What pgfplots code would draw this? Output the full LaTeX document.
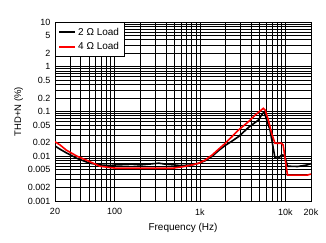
\documentclass[border=0pt]{standalone}
\usepackage{fontspec}
\setmainfont{Liberation Sans}
\usepackage{pgfplots}
\pgfplotsset{compat=1.18}
\begin{document}
\begin{tikzpicture}
\begin{axis}[
 scale only axis, width=256pt, height=179pt,
 xmode=log, ymode=log,
 xmin=20, xmax=20000, ymin=0.001, ymax=10,
 xtick={20,100,1000,10000,20000},
 xticklabels={20,100,1k,10k,20k},
 ytick={0.001,0.002,0.005,0.01,0.02,0.05,0.1,0.2,0.5,1,2,5,10},
 yticklabels={0.001,0.002,0.005,0.01,0.02,0.05,0.1,0.2,0.5,1,2,5,10},
 minor xtick={30,40,50,60,70,80,90,200,300,400,500,600,700,800,900,2000,3000,4000,5000,6000,7000,8000,9000},
 minor ytick={0.003,0.004,0.006,0.007,0.008,0.009,0.03,0.04,0.06,0.07,0.08,0.09,0.3,0.4,0.6,0.7,0.8,0.9,3,4,6,7,8,9},
 grid=both,
 major grid style={black, line width=0.75pt},
 minor grid style={black, line width=0.75pt},
 major tick length=0pt, minor tick length=0pt,
 axis line style={black, line width=1pt},
 tick label style={font=\fontsize{9}{10}\selectfont},
 xticklabel style={yshift=-4pt},
 yticklabel style={xshift=-1pt},
 xlabel={Frequency (Hz)},
 ylabel={THD+N (\%)},
 xlabel style={font=\fontsize{10}{12}\selectfont, yshift=-1pt},
 ylabel style={font=\fontsize{9.5}{11}\selectfont, yshift=-2pt},
 legend style={at={(0,1)}, anchor=north west, draw=black, line width=0.8pt, fill=white,
   font=\fontsize{10}{12}\selectfont, inner xsep=3pt, inner ysep=3.5pt, row sep=2pt, legend cell align=left},
 legend image code/.code={\draw[#1, line width=1.8pt] (0pt,0pt) -- (16pt,0pt);},
]
\coordinate (sw) at (rel axis cs:0,0);
\addplot[black, line width=1.6pt] coordinates {
(20,0.0170) (23,0.0143) (27,0.0120) (36,0.0090) (51,0.0070) (67,0.0064) (87,0.0062)
(104,0.0064) (160,0.0066) (200,0.0064) (330,0.0070) (400,0.0066) (500,0.0064) (600,0.0062)
(800,0.0064) (970,0.0070) (1160,0.0080) (1390,0.0100) (1660,0.0135) (1980,0.0175)
(2170,0.0195) (2830,0.0274) (3700,0.044) (4840,0.0646) (5300,0.085) (5640,0.098)
(6610,0.039) (7570,0.0092) (8300,0.0090) (9040,0.0107) (9800,0.0105) (10600,0.0060)
(14000,0.0059) (18000,0.0064) (20000,0.0068)
};
\addlegendentry{2 Ω Load}
\addplot[red, line width=1.6pt] coordinates {
(20,0.0211) (23,0.0178) (27,0.0138) (36,0.0101) (51,0.0076) (67,0.0060) (87,0.0056)
(104,0.0054) (200,0.0054) (475,0.0054) (620,0.0058) (810,0.0064) (970,0.0070)
(1160,0.0083) (1390,0.0107) (1660,0.0145) (1980,0.0195) (2370,0.0274) (2830,0.0386)
(3700,0.0593) (4430,0.0835) (5530,0.118) (5800,0.108) (6325,0.0646) (6910,0.0325)
(7570,0.0195) (9040,0.0195) (9440,0.0178) (10600,0.0038) (18130,0.0038) (20000,0.0040)
};
\addlegendentry{4 Ω Load}
\end{axis}
\pgfresetboundingbox
\path ([xshift=-55pt,yshift=-41pt]sw) rectangle ([xshift=271pt,yshift=201pt]sw);
\end{tikzpicture}
\end{document}
